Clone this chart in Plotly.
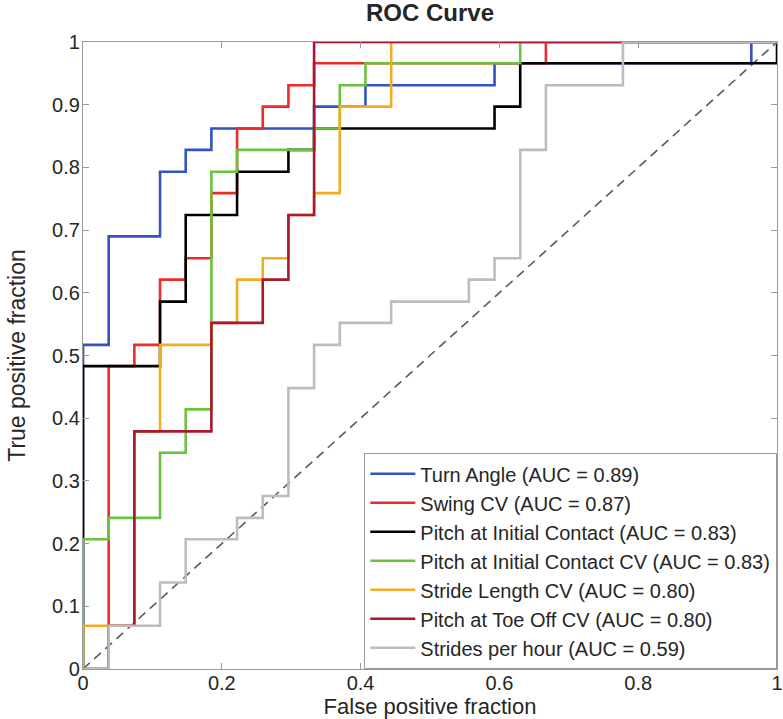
import plotly.graph_objects as go

# ROC step-curve corner points (line_shape "vh": rise at previous x, then run to this x)
turn_angle_fpr = [0, 0.037, 0.111, 0.148, 0.185, 0.333, 0.407, 0.593, 0.963, 1]
turn_angle_tpr = [0, 0.517, 0.690, 0.793, 0.828, 0.862, 0.897, 0.931, 0.966, 1]

swing_cv_fpr = [0, 0.037, 0.074, 0.111, 0.148, 0.185, 0.222, 0.259, 0.296, 0.333, 0.667, 1]
swing_cv_tpr = [0, 0, 0.483, 0.517, 0.621, 0.655, 0.759, 0.862, 0.897, 0.931, 0.966, 1]

pitch_ic_fpr = [0, 0.111, 0.148, 0.222, 0.296, 0.333, 0.593, 0.630, 1, 1]
pitch_ic_tpr = [0, 0.483, 0.586, 0.724, 0.793, 0.828, 0.862, 0.897, 0.966, 1]

pitch_ic_cv_fpr = [0, 0.037, 0.111, 0.148, 0.185, 0.222, 0.333, 0.370, 0.407, 0.630, 1]
pitch_ic_cv_tpr = [0, 0.207, 0.241, 0.345, 0.414, 0.793, 0.828, 0.862, 0.931, 0.966, 1]

stride_len_cv_fpr = [0, 0.074, 0.111, 0.185, 0.222, 0.259, 0.296, 0.333, 0.370, 0.444, 1]
stride_len_cv_tpr = [0, 0.069, 0.379, 0.517, 0.552, 0.621, 0.655, 0.724, 0.759, 0.897, 1]

pitch_to_cv_fpr = [0, 0.037, 0.074, 0.185, 0.259, 0.296, 0.333, 1]
pitch_to_cv_tpr = [0, 0, 0.069, 0.379, 0.552, 0.621, 0.724, 1]

strides_hr_fpr = [0, 0.037, 0.111, 0.148, 0.222, 0.259, 0.296, 0.333, 0.370, 0.444,
                  0.556, 0.593, 0.630, 0.667, 0.778, 1]
strides_hr_tpr = [0, 0, 0.069, 0.138, 0.207, 0.241, 0.276, 0.448, 0.517, 0.552,
                  0.586, 0.621, 0.655, 0.828, 0.931, 1]

chance_x = [0, 1]
chance_y = [0, 1]

series_names = [
    "Turn Angle (AUC = 0.89)",
    "Swing CV (AUC = 0.87)",
    "Pitch at Initial Contact (AUC = 0.83)",
    "Pitch at Initial Contact CV (AUC = 0.83)",
    "Stride Length CV (AUC = 0.80)",
    "Pitch at Toe Off CV (AUC = 0.80)",
    "Strides per hour (AUC = 0.59)",
]
series_x = [turn_angle_fpr, swing_cv_fpr, pitch_ic_fpr, pitch_ic_cv_fpr,
            stride_len_cv_fpr, pitch_to_cv_fpr, strides_hr_fpr]
series_y = [turn_angle_tpr, swing_cv_tpr, pitch_ic_tpr, pitch_ic_cv_tpr,
            stride_len_cv_tpr, pitch_to_cv_tpr, strides_hr_tpr]
series_colors = ["#3352C4", "#EE2B2B", "#000000", "#6CC23E", "#F2AC1F", "#A8182F", "#BDBDBD"]

x_tickvals = [0, 0.2, 0.4, 0.6, 0.8, 1]
x_ticktext = ["0", "0.2", "0.4", "0.6", "0.8", "1"]
y_tickvals = [0, 0.1, 0.2, 0.3, 0.4, 0.5, 0.6, 0.7, 0.8, 0.9, 1]
y_ticktext = ["0", "0.1", "0.2", "0.3", "0.4", "0.5", "0.6", "0.7", "0.8", "0.9", "1"]

FONT = "Liberation Sans, Arial, Helvetica, sans-serif"
TXT = "#262626"
AX = "#9a9a9a"
H = 719

fig = go.Figure()
fig.add_trace(go.Scatter(x=chance_x, y=chance_y, mode="lines", showlegend=False,
                         hoverinfo="skip",
                         line=dict(color="#5a5a5a", width=1.6, dash="9px,6px")))
for name, xs, ys, col in zip(series_names, series_x, series_y, series_colors):
    fig.add_trace(go.Scatter(x=xs, y=ys, mode="lines", name=name,
                             line=dict(color=col, width=2.6, shape="vh")))

axis_common = dict(range=[0, 1], showgrid=False, zeroline=False, showline=True,
                   linecolor=AX, linewidth=1.3, mirror="ticks", ticks="inside",
                   ticklen=6, tickwidth=1, tickcolor=AX, automargin=False,
                   ticklabeloverflow="allow",
                   tickfont=dict(family=FONT, size=20, color=TXT))

fig.update_layout(
    width=783, height=H,
    margin=dict(l=83, r=6, t=42, b=50),
    paper_bgcolor="white", plot_bgcolor="white",
    font=dict(family=FONT, color=TXT),
    title=dict(text="<b>ROC Curve</b>", x=0.5, xref="paper", xanchor="center",
               y=1 - 13 / H, yref="container", yanchor="middle",
               font=dict(family=FONT, size=24, color=TXT)),
    xaxis=dict(axis_common, tickvals=x_tickvals, ticktext=x_ticktext,
               ticklabelstandoff=-4,
               title=dict(text="False positive fraction", standoff=2,
                          font=dict(family=FONT, size=22, color=TXT))),
    yaxis=dict(axis_common, tickvals=y_tickvals, ticktext=y_ticktext,
               ticklabelstandoff=-2,
               title=dict(text="True positive fraction", standoff=19,
                          font=dict(family=FONT, size=23, color=TXT))),
    legend=dict(x=1, y=0, xanchor="right", yanchor="bottom",
                bgcolor="white", bordercolor=AX, borderwidth=1.3,
                font=dict(family=FONT, size=20, color=TXT),
                tracegroupgap=0, itemwidth=45),
)

fig.write_html("out.html", config={"displayModeBar": False},
               post_script="document.body.style.margin='0px';document.body.style.padding='0px';")
